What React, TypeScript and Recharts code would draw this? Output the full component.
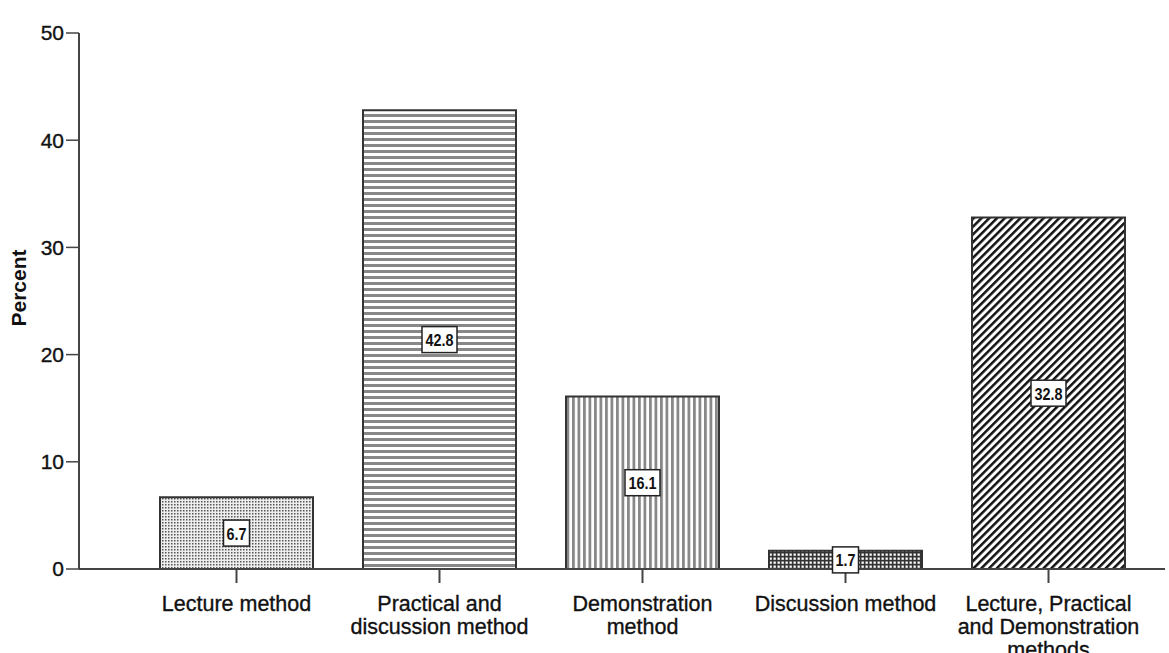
import { BarChart, Bar, XAxis, YAxis, Cell, LabelList } from 'recharts'

const categories = [
  'Lecture method',
  'Practical and\ndiscussion method',
  'Demonstration\nmethod',
  'Discussion method',
  'Lecture, Practical\nand Demonstration\nmethods',
]
const percents = [6.7, 42.8, 16.1, 1.7, 32.8]
const patternIds = ['dots', 'hlines', 'vlines', 'grid', 'diag']
const yTicks = [0, 10, 20, 30, 40, 50]

const data = categories.map((name, i) => ({ name, percent: percents[i] }))

const FONT = '"Liberation Sans", Arial, sans-serif'
const NARROW = '"Liberation Sans Narrow", "Arial Narrow", "Liberation Sans", sans-serif'

function CategoryTick(props: any) {
  const { x, y, payload } = props
  const lines = String(payload.value).split('\n')
  return (
    <text x={x} y={y + 26} textAnchor="middle" fontFamily={FONT} fontSize={21.5} fill="#111" stroke="#111" strokeWidth={0.35}>
      {lines.map((l, i) => (
        <tspan key={i} x={x} dy={i === 0 ? 0 : 23}>
          {l}
        </tspan>
      ))}
    </text>
  )
}

function ValueBox(props: any) {
  const { x, y, width, height, value } = props
  const cx = x + width / 2
  const cy = y + height / 2
  const long = String(value).length > 3
  const w = long ? 35 : 26
  return (
    <g>
      <rect x={cx - w / 2} y={cy - 13} width={w} height={26} fill="#fff" stroke="#222" strokeWidth={1.5} />
      <text x={cx} y={cy + 1} textAnchor="middle" dominantBaseline="central" fontFamily={NARROW} fontWeight="bold" fontSize={17} fill="#111" textLength={long ? 28 : 20} lengthAdjust="spacingAndGlyphs">
        {value}
      </text>
    </g>
  )
}

function PercentLabel(props: any) {
  const vb = props.viewBox || { x: 0, y: 33, width: 79, height: 536 }
  const cx = vb.x + 18
  const cy = vb.y + vb.height / 2 - 13
  return (
    <text x={cx} y={cy} transform={`rotate(-90, ${cx}, ${cy})`} textAnchor="middle" dominantBaseline="central" fontFamily={FONT} fontWeight="bold" fontSize={21} fill="#111">
      Percent
    </text>
  )
}

export default function App() {
  return (
    <div style={{ position: 'absolute', left: 0, top: 0, background: '#fff' }}>
      <BarChart width={1169} height={653} data={data} margin={{ top: 33, right: 4, bottom: 0, left: 0 }}>
        <defs>
          <pattern id="dots" width={3} height={3} patternUnits="userSpaceOnUse">
            <rect width={3} height={3} fill="#eee" />
            <rect width={1.5} height={1.5} fill="#555" />
          </pattern>
          <pattern id="hlines" width={6} height={6} patternUnits="userSpaceOnUse">
            <rect width={6} height={6} fill="#fff" />
            <rect y={0} width={6} height={3} fill="#888" />
          </pattern>
          <pattern id="vlines" width={5.5} height={6} patternUnits="userSpaceOnUse">
            <rect width={5.5} height={6} fill="#fff" />
            <rect x={0} width={2.8} height={6} fill="#888" />
          </pattern>
          <pattern id="grid" width={4} height={4} patternUnits="userSpaceOnUse">
            <rect width={4} height={4} fill="#333" />
            <rect x={1.5} y={1.5} width={2.3} height={2.3} fill="#fff" />
          </pattern>
          <pattern id="diag" width={5.5} height={5.5} patternUnits="userSpaceOnUse" patternTransform="rotate(45)">
            <rect width={5.5} height={5.5} fill="#fff" />
            <rect x={0} width={2.5} height={5.5} fill="#111" />
          </pattern>
        </defs>
        <XAxis
          dataKey="name"
          height={84}
          interval={0}
          padding={{ left: 56, right: 15 }}
          tick={<CategoryTick />}
          tickSize={14}
          axisLine={{ stroke: '#444', strokeWidth: 2 }}
          tickLine={{ stroke: '#444', strokeWidth: 2 }}
        />
        <YAxis
          width={79}
          domain={[0, 50]}
          ticks={yTicks}
          interval={0}
          tickSize={13}
          tickMargin={2}
          tick={{ fontFamily: FONT, fontSize: 21, fill: '#111', stroke: '#111', strokeWidth: 0.35 }}
          axisLine={{ stroke: '#444', strokeWidth: 2 }}
          tickLine={{ stroke: '#444', strokeWidth: 1.5 }}
          label={{ value: 'Percent', content: <PercentLabel /> }}
        />
        <Bar dataKey="percent" barSize={153} stroke="#333" strokeWidth={2} isAnimationActive={false}>
          {data.map((d, i) => (
            <Cell key={d.name} fill={`url(#${patternIds[i]})`} />
          ))}
          <LabelList dataKey="percent" content={<ValueBox />} />
        </Bar>
      </BarChart>
    </div>
  )
}
